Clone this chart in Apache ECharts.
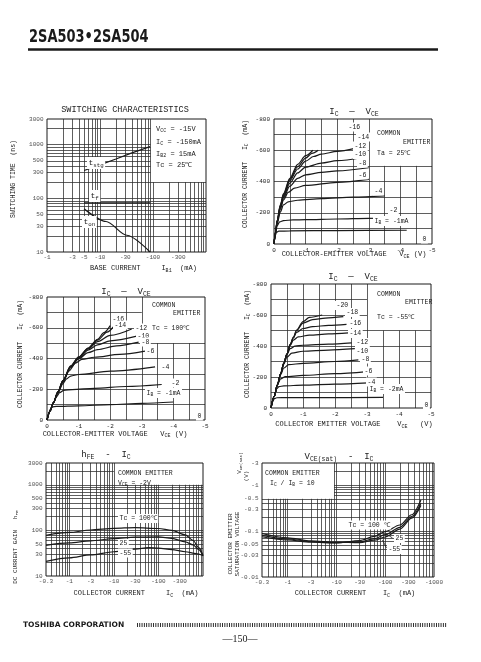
<!DOCTYPE html>
<html><head><meta charset="utf-8">
<script src="https://cdn.jsdelivr.net/npm/echarts@6/dist/echarts.min.js"></script>
<style>html,body{margin:0;padding:0;background:#fff}#c{width:481px;height:662px}</style>
</head><body><div id="c"></div>
<script>
// ================= DATA =================
// 1. Switching characteristics  (x = |IB1| mA, y = time ns)
const swTstg = [[5,330],[10,420],[20,540],[40,700],[88,920]];
const swTf   = [[5,82],[30,82],[88,82]];
const swTon  = [[5,64],[13,37],[32,20.5],[88,10]];
const swXTicks = [1,3,5,10,30,100,300];
const swYTicks = [10,30,50,100,300,500,1000,3000];

// 2. IC - VCE, Ta = 25 C  (x = |VCE| V, y = |IC| mA), one curve per IB
const ic25Names = ['-1','-2','-4','-6','-8','-10','-12','-14','-16'];
const ic25Curves = [
  [[0,0],[0.04,55],[0.08,75],[0.15,82],[0.5,84],[2,86],[4.2,88]],
  [[0,0],[0.05,70],[0.1,118],[0.18,142],[0.3,150],[0.6,154],[1,156],[2,160],[3,164],[3.9,168]],
  [[0,0],[0.05,72],[0.1,130],[0.2,205],[0.3,250],[0.45,270],[0.75,280],[1.5,290],[2.5,300],[3.5,308]],
  [[0,0],[0.05,74],[0.1,138],[0.2,222],[0.3,282],[0.45,330],[0.65,358],[1,375],[2,395],[3,414]],
  [[0,0],[0.05,76],[0.1,142],[0.2,230],[0.3,295],[0.5,370],[0.75,420],[1,443],[1.5,458],[2,468],[3,488]],
  [[0,0],[0.05,77],[0.1,145],[0.2,236],[0.3,302],[0.5,390],[0.75,455],[1,492],[1.5,518],[2,533],[2.78,552]],
  [[0,0],[0.05,78],[0.1,148],[0.2,242],[0.3,310],[0.5,405],[0.75,480],[1,530],[1.25,560],[1.5,575],[2,593],[2.56,612]],
  [[0,0],[0.05,79],[0.1,150],[0.2,246],[0.3,316],[0.5,413],[0.75,495],[1,550],[1.2,580],[1.4,600]],
  [[0,0],[0.05,80],[0.1,152],[0.2,250],[0.3,322],[0.5,420],[0.75,510],[1,565],[1.23,600]]
];

// 3. IC - VCE, Tc = 100 C
const ic100Names = ['-1','-2','-4','-6','-8','-10','-12','-14','-16'];
const ic100Curves = [
  [[0,0],[0.05,40],[0.1,70],[0.16,85],[0.3,88],[1,92],[2,100],[3,108],[4,117]],
  [[0,0],[0.1,60],[0.2,110],[0.3,150],[0.4,178],[0.53,193],[0.8,198],[1.5,206],[2.5,218],[3.63,231]],
  [[0,0],[0.1,60],[0.2,112],[0.35,178],[0.5,235],[0.62,268],[0.75,286],[1,296],[2,318],[3.42,346]],
  [[0,0],[0.1,60],[0.2,112],[0.35,180],[0.5,245],[0.7,320],[0.9,370],[1.1,394],[1.5,408],[2.3,427],[3.1,448]],
  [[0,0],[0.1,60],[0.2,112],[0.35,182],[0.5,250],[0.75,340],[1,398],[1.3,438],[1.6,458],[2.2,482],[2.9,506]],
  [[0,0],[0.1,60],[0.2,112],[0.35,183],[0.5,252],[0.75,345],[1,402],[1.3,455],[1.6,488],[2,515],[2.84,545]],
  [[0,0],[0.1,60],[0.2,112],[0.35,184],[0.5,254],[0.75,348],[1,406],[1.3,462],[1.6,510],[2,550],[2.68,592]],
  [[0,0],[0.1,60],[0.2,112],[0.35,185],[0.5,255],[0.75,350],[1,408],[1.3,466],[1.6,520],[1.9,572],[2.1,605]],
  [[0,0],[0.1,60],[0.2,112],[0.35,186],[0.5,256],[0.75,352],[1,410],[1.3,468],[1.6,525],[1.8,568],[2.0,614]]
];

// 4. IC - VCE, Tc = -55 C
const ic55Names = ['-2','-4','-6','-8','-10','-12','-14','-16','-18','-20'];
const ic55Curves = [
  [[0,0],[0.05,38],[0.1,60],[0.18,66],[0.5,67],[1.5,67],[3.5,68]],
  [[0,0],[0.1,75],[0.18,125],[0.25,138],[0.4,143],[1,147],[2,154],[3.04,162]],
  [[0,0],[0.1,75],[0.2,150],[0.3,188],[0.45,202],[1,210],[2,222],[3,235]],
  [[0,0],[0.1,75],[0.2,150],[0.3,215],[0.4,258],[0.55,280],[1,288],[2,300],[2.73,311]],
  [[0,0],[0.1,75],[0.2,150],[0.3,220],[0.4,283],[0.5,328],[0.65,354],[1,366],[1.8,374],[2.62,383]],
  [[0,0],[0.1,75],[0.2,150],[0.3,220],[0.4,288],[0.5,345],[0.6,383],[0.75,399],[1,405],[1.8,412],[2.52,420]],
  [[0,0],[0.1,75],[0.2,150],[0.3,220],[0.4,290],[0.5,348],[0.6,403],[0.7,438],[0.85,459],[1.2,470],[1.8,478],[2.42,485]],
  [[0,0],[0.1,75],[0.2,150],[0.3,220],[0.4,290],[0.5,350],[0.6,408],[0.7,452],[0.8,488],[1,513],[1.3,525],[1.8,533],[2.36,540]],
  [[0,0],[0.1,75],[0.2,150],[0.3,220],[0.4,290],[0.5,350],[0.6,410],[0.7,455],[0.8,500],[1,548],[1.3,570],[1.7,580],[2.26,589]],
  [[0,0],[0.1,75],[0.2,150],[0.3,220],[0.4,290],[0.5,350],[0.6,410],[0.7,457],[0.8,503],[1,557],[1.2,585],[1.6,600]]
];

// 5. hFE - IC  (x = |IC| mA, y = hFE)
const hfe100 = [[0.3,78],[1,90],[3,102],[10,111],[30,115],[100,110],[200,100],[400,80],[600,60],[800,42],[1000,28]];
const hfe25  = [[0.3,47],[1,53],[3,59],[10,66],[30,71],[100,72],[200,67],[400,56],[600,48],[800,38],[1000,28]];
const hfeM55 = [[0.3,21],[1,25],[3,29],[10,34],[30,39],[60,42],[100,41],[200,38],[400,34],[700,31],[1000,28]];
const icXTicks = [0.3,1,3,10,30,100,300];
const hfeYTicks = [10,30,50,100,300,500,1000,3000];

// 6. VCE(sat) - IC  (x = |IC| mA, y = |VCE(sat)| V)
const vs100 = [[0.3,0.075],[1,0.064],[3,0.057],[10,0.055],[30,0.062],[60,0.076],[100,0.097],[200,0.135],[350,0.225],[540,0.47]];
const vs25  = [[0.3,0.08],[1,0.067],[3,0.059],[10,0.056],[30,0.058],[60,0.068],[100,0.083],[200,0.12],[350,0.205],[540,0.4]];
const vsM55 = [[0.3,0.088],[1,0.071],[3,0.061],[10,0.057],[30,0.056],[60,0.063],[100,0.074],[200,0.11],[350,0.19],[540,0.36]];
const vsXTicks = [0.3,1,3,10,30,100,300,1000];
const vsYTicks = [0.01,0.03,0.05,0.1,0.3,0.5,1,3];

// ================= BUILD =================
const MONO = "'Liberation Mono','DejaVu Sans Mono',monospace";
const INK = '#1a1a1a';

const GRIDS = [
  {left:47, top:119, width:159, height:133},
  {left:274, top:119, width:158, height:125},
  {left:47, top:297, width:158, height:123},
  {left:271, top:284, width:160, height:124},
  {left:46, top:463, width:157, height:113},
  {left:262, top:463, width:172, height:114}
];
const RANGES = [
  {x:[1,1000], y:[10,3000], log:true, box:{x0:90,x1:1000,y0:200,y1:3000}},
  {x:[0,5], y:[0,800], log:false, box:{x0:3,x1:5,y0:500,y1:800}},
  {x:[0,5], y:[0,800], log:false, box:{x0:3,x1:5,y0:500,y1:800}},
  {x:[0,5], y:[0,800], log:false, box:{x0:3,x1:5,y0:500,y1:800}},
  {x:[0.3,1000], y:[10,3000], log:true, box:{x0:10,x1:1000,y0:1000,y1:3000}},
  {x:[0.3,1000], y:[0.01,3], log:true, box:{x0:0.3,x1:9,y0:0.5,y1:3}}
];

function logVals(min, max) {
  const out = [];
  for (let e = -3; e <= 4; e++) for (let m = 1; m <= 9; m++) {
    const v = +(m * Math.pow(10, e)).toPrecision(6);
    if (v >= min * (1 - 1e-9) && v <= max * (1 + 1e-9)) out.push(v);
  }
  return out;
}
function linVals(min, max, step) { const o = []; for (let v = min; v <= max + 1e-9; v += step) o.push(+v.toFixed(6)); return o; }
const near = (a, b) => Math.abs(a - b) <= 1e-9 * Math.max(1, Math.abs(a), Math.abs(b));
const inside = (v, a, b) => v > a && v < b && !near(v, a) && !near(v, b);

function gridLines(gi, xs, ys, r) {
  const segs = [], b = r.box, xr = r.x, yr = r.y;
  xs.forEach(x => {
    if (near(x, xr[0]) || near(x, xr[1])) return;
    if (b && inside(x, b.x0, b.x1)) {
      if (b.y0 > yr[0] && !near(b.y0, yr[0])) segs.push([[x, yr[0]], [x, b.y0]]);
      if (b.y1 < yr[1] && !near(b.y1, yr[1])) segs.push([[x, b.y1], [x, yr[1]]]);
    } else segs.push([[x, yr[0]], [x, yr[1]]]);
  });
  ys.forEach(y => {
    if (near(y, yr[0]) || near(y, yr[1])) return;
    if (b && inside(y, b.y0, b.y1)) {
      if (b.x0 > xr[0] && !near(b.x0, xr[0])) segs.push([[xr[0], y], [b.x0, y]]);
      if (b.x1 < xr[1] && !near(b.x1, xr[1])) segs.push([[b.x1, y], [xr[1], y]]);
    } else segs.push([[xr[0], y], [xr[1], y]]);
  });
  return {type:'lines', coordinateSystem:'cartesian2d', xAxisIndex:gi, yAxisIndex:gi,
    silent:true, z:1, animation:false, polyline:false,
    lineStyle:{color:'#2a2a2a', width:0.75, opacity:1, curveness:0},
    data: segs.map(c => ({coords:c}))};
}

function tickLabels(gi, ticks, fixed, isX, fmt) {
  return {type:'scatter', xAxisIndex:gi, yAxisIndex:gi, symbolSize:1, silent:true, clip:false, z:5,
    animation:false, itemStyle:{color:'rgba(0,0,0,0)'},
    data: ticks.map(v => ({value: isX ? [v, fixed] : [fixed, v], name: fmt(v)})),
    label:{show:true, position: isX ? 'bottom' : 'left', distance: isX ? 2 : 3, formatter:'{b}',
      fontSize:6, fontFamily:MONO, color:INK}};
}

function curve(gi, data, name, smooth) {
  return {type:'line', name, xAxisIndex:gi, yAxisIndex:gi, data, showSymbol:false, symbol:'none',
    smooth: smooth == null ? 0.3 : smooth, smoothMonotone:'x', silent:true, z:3, animation:false,
    lineStyle:{color:INK, width:1.2}};
}

const neg = v => '-' + v;
const pos = v => String(v);

const xAxis = [], yAxis = [], series = [];
RANGES.forEach((r, i) => {
  if (r.log) {
    xAxis.push({type:'log', logBase:10, gridIndex:i, min:r.x[0], max:r.x[1], axisLine:{show:false}, axisTick:{show:false}, axisLabel:{show:false}, splitLine:{show:false}});
    yAxis.push({type:'log', logBase:10, gridIndex:i, min:r.y[0], max:r.y[1], axisLine:{show:false}, axisTick:{show:false}, axisLabel:{show:false}, splitLine:{show:false}});
    series.push(gridLines(i, logVals(r.x[0], r.x[1]), logVals(r.y[0], r.y[1]), r));
  } else {
    const lab = {show:true, margin:3, fontSize:6, fontFamily:MONO, color:INK, formatter: v => v === 0 ? '0' : '-' + v};
    xAxis.push({type:'value', gridIndex:i, min:0, max:5, interval:1, axisLine:{show:false}, axisTick:{show:false}, splitLine:{show:false}, axisLabel:lab});
    yAxis.push({type:'value', gridIndex:i, min:0, max:800, interval:200, axisLine:{show:false}, axisTick:{show:false}, splitLine:{show:false}, axisLabel:Object.assign({}, lab, {margin:4})});
    series.push(gridLines(i, linVals(0, 5, 0.5), linVals(0, 800, 100), r));
  }
});

// chart 1
series.push(tickLabels(0, swXTicks, 10, true, neg), tickLabels(0, swYTicks, 1, false, pos));
series.push(curve(0, swTstg, 'tstg', false), curve(0, swTf, 'tf', false), curve(0, swTon, 'ton', 0.3));
// charts 2-4
ic25Curves.forEach((c, k) => series.push(curve(1, c, ic25Names[k])));
ic100Curves.forEach((c, k) => series.push(curve(2, c, ic100Names[k])));
ic55Curves.forEach((c, k) => series.push(curve(3, c, ic55Names[k])));
// chart 5
series.push(tickLabels(4, icXTicks, 10, true, neg), tickLabels(4, hfeYTicks, 0.3, false, pos));
series.push(curve(4, hfe100, '100'), curve(4, hfe25, '25'), curve(4, hfeM55, '-55'));
// chart 6
series.push(tickLabels(5, vsXTicks, 0.01, true, neg), tickLabels(5, vsYTicks, 0.3, false, neg));
series.push(curve(5, vs100, '100'), curve(5, vs25, '25'), curve(5, vsM55, '-55'));

// ---------- text / decoration ----------
function T(x, y, text, o) {
  o = o || {};
  const fs = o.fs || 6.5, ff = o.ff || MONO;
  const st = {text, fill:INK, fontFamily:ff, fontSize:fs, fontWeight:o.fw || 'normal',
    align:o.align || 'left', textAlign:o.align || 'left', verticalAlign:'middle', textVerticalAlign:'middle',
    rich:{s:{fontSize:Math.max(4, fs * 0.72), fontFamily:ff, fill:INK, padding:[Math.round(fs * 0.5), 0, 0, 0]}}};
  if (o.bg) { st.backgroundColor = '#fff'; st.padding = o.pad || [1, 1.5]; }
  return {type:'text', x, y, z:20, silent:true, rotation:o.rot || 0, scaleX:o.sx || 1, style:st};
}
function L(x1, y1, x2, y2, w, dash) {
  return {type:'line', z:20, silent:true, shape:{x1, y1, x2, y2}, style:{stroke:INK, lineWidth:w || 0.8, lineDash:dash || null}};
}
const R = Math.PI / 2;
const els = [
  // header
  T(29, 38, '2SA503•2SA504', {ff:"'DejaVu Sans Condensed','DejaVu Sans',sans-serif", fw:'bold', fs:17, sx:0.85}),
  L(28, 49.5, 438, 49.5, 2.4),
  // footer
  T(23, 625, 'TOSHIBA CORPORATION', {ff:"'DejaVu Sans',sans-serif", fw:'bold', fs:7.5}),
  L(137, 625, 447, 625, 4, [0.9, 1.4]),
  T(240, 639, '—150—', {ff:"'Liberation Serif','DejaVu Serif',serif", fs:10, align:'center'}),

  // chart 1
  T(125, 110, 'SWITCHING CHARACTERISTICS', {fs:8.5, align:'center'}),
  T(156, 129, 'V{s|CC} = -15V', {fs:7}),
  T(156, 142, 'I{s|C} = -150mA', {fs:7}),
  T(156, 154, 'I{s|B2} = 15mA', {fs:7}),
  T(156, 165, 'Tc = 25℃', {fs:7}),
  T(87, 163, 't{s|stg}', {fs:8, bg:true}),
  T(89, 196, 't{s|f}', {fs:8, bg:true}),
  T(82, 222, 't{s|on}', {fs:8, bg:true}),
  T(90, 268.5, 'BASE CURRENT     I{s|B1}  (mA)', {fs:7}),
  T(13.5, 179, 'SWITCHING TIME  (ns)', {fs:6.5, align:'center', rot:R}),

  // chart 2
  T(354, 112, 'I{s|C}  —  V{s|CE}', {fs:9, align:'center'}),
  T(377, 133, 'COMMON'), T(403, 142, 'EMITTER'), T(377, 153, 'Ta = 25℃'),
  T(347, 127, '-16', {bg:true}), T(356, 137, '-14', {bg:true}), T(353, 146, '-12', {bg:true}),
  T(353, 154.5, '-10', {bg:true}), T(357, 163, '-8', {bg:true}), T(357, 175, '-6', {bg:true}),
  T(373, 191, '-4', {bg:true}), T(388, 210, '-2', {bg:true}),
  T(373, 221, 'I{s|B} = -1mA', {bg:true}), T(421, 239, '0', {bg:true}),
  T(354, 254.5, 'COLLECTOR-EMITTER VOLTAGE   V{s|CE} (V)', {fs:7, align:'center'}),
  T(245.5, 174, 'COLLECTOR CURRENT   I{s|C}  (mA)', {align:'center', rot:R}),

  // chart 3
  T(126, 292, 'I{s|C}  —  V{s|CE}', {fs:9, align:'center'}),
  T(152, 305, 'COMMON'), T(173, 313.5, 'EMITTER'), T(152, 328.5, 'Tc = 100℃'),
  T(111, 319, '-16', {bg:true}), T(113, 325, '-14', {bg:true}), T(134, 328, '-12', {bg:true}),
  T(136, 336, '-10', {bg:true}), T(140, 342, '-8', {bg:true}), T(145, 351, '-6', {bg:true}),
  T(160, 367, '-4', {bg:true}), T(170, 383, '-2', {bg:true}),
  T(145, 393, 'I{s|B} = -1mA', {bg:true}), T(196, 416, '0', {bg:true}),
  T(115, 434, 'COLLECTOR-EMITTER VOLTAGE   V{s|CE} (V)', {fs:7, align:'center'}),
  T(20, 354, 'COLLECTOR CURRENT   I{s|C}  (mA)', {align:'center', rot:R}),

  // chart 4
  T(353, 277, 'I{s|C}  —  V{s|CE}', {fs:9, align:'center'}),
  T(377, 294, 'COMMON'), T(405, 302.5, 'EMITTER'), T(377, 317.5, 'Tc = -55℃'),
  T(335, 305.5, '-20', {bg:true}), T(345, 312.5, '-18', {bg:true}), T(348, 323.5, '-16', {bg:true}),
  T(348, 333.5, '-14', {bg:true}), T(355, 342.5, '-12', {bg:true}), T(355, 351, '-10', {bg:true}),
  T(360, 359, '-8', {bg:true}), T(363, 371, '-6', {bg:true}), T(366, 382, '-4', {bg:true}),
  T(368, 389, 'I{s|B} = -2mA', {bg:true}), T(423, 405, '0', {bg:true}),
  T(354, 424.5, 'COLLECTOR EMITTER VOLTAGE    V{s|CE}   (V)', {fs:7, align:'center'}),
  T(247, 344, 'COLLECTOR CURRENT   I{s|C}  (mA)', {align:'center', rot:R}),

  // chart 5
  T(106, 455, 'h{s|FE}  -  I{s|C}', {fs:9, align:'center'}),
  T(118, 473.5, 'COMMON EMITTER'), T(118, 483.5, 'V{s|CE} = -2V'),
  T(118, 518.5, 'Tc = 100℃', {bg:true}), T(118, 543.5, '25', {bg:true}), T(118, 553, '-55', {bg:true}),
  T(136, 593.5, 'COLLECTOR CURRENT     I{s|C}  (mA)', {fs:7, align:'center'}),
  T(15, 547, 'DC CURRENT GAIN   h{s|FE}', {fs:6, align:'center', rot:R}),

  // chart 6
  T(339, 456.5, 'V{s|CE(sat)}  -  I{s|C}', {fs:9, align:'center'}),
  T(265, 473.5, 'COMMON EMITTER'), T(270, 483.5, 'I{s|C} / I{s|B} = 10'),
  T(347, 525, 'Tc = 100 ℃', {bg:true}), T(394, 538.5, '25', {bg:true}), T(387, 549.5, '-55', {bg:true}),
  L(386.5, 534, 392.5, 538), L(382.5, 540, 386.5, 548),
  T(355, 593.5, 'COLLECTOR CURRENT    I{s|C}  (mA)', {fs:7, align:'center'}),
  T(230, 544, 'COLLECTOR EMITTER', {fs:6, align:'center', rot:R}),
  T(237, 544, 'SATURATION VOLTAGE', {fs:6, align:'center', rot:R}),
  T(239, 463, 'V{s|CE(sat)}', {fs:6, align:'center', rot:R}),
  T(246.5, 476, '(V)', {fs:6, align:'center', rot:R})
];

const option = {
  animation:false,
  backgroundColor:'#fff',
  textStyle:{fontFamily:MONO},
  grid: GRIDS.map(g => Object.assign({show:true, borderColor:INK, borderWidth:1, backgroundColor:'transparent', z:4, containLabel:false}, g)),
  xAxis, yAxis, series,
  graphic:{elements:els}
};
const chart = echarts.init(document.getElementById('c'), null, {renderer:'canvas'});
chart.setOption(option);
</script></body></html>
